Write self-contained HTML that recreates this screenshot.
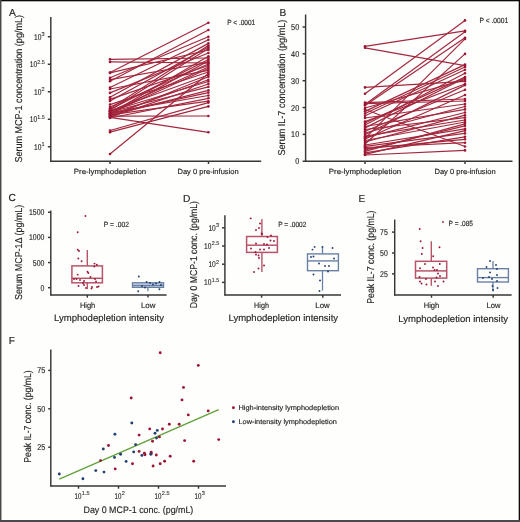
<!DOCTYPE html>
<html><head><meta charset="utf-8"><style>
html,body{margin:0;padding:0;background:#fefefd;}
body{width:520px;height:522px;overflow:hidden;position:relative;}
svg{position:absolute;left:0;top:0;will-change:transform;}
text{font-family:"Liberation Sans", sans-serif;text-rendering:geometricPrecision;stroke:#2a2a2a;stroke-width:0.16px;paint-order:stroke;}
</style></head><body>
<svg width="520" height="522" viewBox="0 0 520 522">
<rect x="0" y="0" width="520" height="522" fill="#fefefd"/>
<text x="9.00" y="15.50" font-size="10.2" text-anchor="start" fill="#262626">A</text>
<text x="22.20" y="162.60" font-size="10.0" text-anchor="start" fill="#262626" textLength="147.60" lengthAdjust="spacingAndGlyphs" transform="rotate(-90 22.20 162.60)">Serum MCP-1 concentration (pg/mL)</text>
<line x1="47.80" y1="36.75" x2="50.60" y2="36.75" stroke="#363636" stroke-width="1.45"/>
<text x="41.60" y="36.05" font-size="5.6" text-anchor="start" fill="#262626" style="stroke-width:0.08px">3</text>
<text x="41.40" y="39.75" font-size="8.4" text-anchor="end" fill="#262626" textLength="7.40" lengthAdjust="spacingAndGlyphs">10</text>
<line x1="47.80" y1="64.25" x2="50.60" y2="64.25" stroke="#363636" stroke-width="1.45"/>
<text x="37.30" y="63.55" font-size="5.6" text-anchor="start" fill="#262626" textLength="7.60" lengthAdjust="spacingAndGlyphs" style="stroke-width:0.08px">2.5</text>
<text x="37.10" y="67.25" font-size="8.4" text-anchor="end" fill="#262626" textLength="7.40" lengthAdjust="spacingAndGlyphs">10</text>
<line x1="47.80" y1="91.75" x2="50.60" y2="91.75" stroke="#363636" stroke-width="1.45"/>
<text x="41.60" y="91.05" font-size="5.6" text-anchor="start" fill="#262626" style="stroke-width:0.08px">2</text>
<text x="41.40" y="94.75" font-size="8.4" text-anchor="end" fill="#262626" textLength="7.40" lengthAdjust="spacingAndGlyphs">10</text>
<line x1="47.80" y1="119.25" x2="50.60" y2="119.25" stroke="#363636" stroke-width="1.45"/>
<text x="37.30" y="118.55" font-size="5.6" text-anchor="start" fill="#262626" textLength="7.60" lengthAdjust="spacingAndGlyphs" style="stroke-width:0.08px">1.5</text>
<text x="37.10" y="122.25" font-size="8.4" text-anchor="end" fill="#262626" textLength="7.40" lengthAdjust="spacingAndGlyphs">10</text>
<line x1="47.80" y1="146.75" x2="50.60" y2="146.75" stroke="#363636" stroke-width="1.45"/>
<text x="41.60" y="146.05" font-size="5.6" text-anchor="start" fill="#262626" style="stroke-width:0.08px">1</text>
<text x="41.40" y="149.75" font-size="8.4" text-anchor="end" fill="#262626" textLength="7.40" lengthAdjust="spacingAndGlyphs">10</text>
<line x1="110.00" y1="59.30" x2="208.40" y2="58.00" stroke="#a3283e" stroke-width="1.2"/>
<line x1="110.00" y1="61.90" x2="208.40" y2="63.00" stroke="#a3283e" stroke-width="1.2"/>
<line x1="110.00" y1="72.50" x2="208.40" y2="22.80" stroke="#a3283e" stroke-width="1.2"/>
<line x1="110.00" y1="81.30" x2="208.40" y2="30.00" stroke="#a3283e" stroke-width="1.2"/>
<line x1="110.00" y1="130.50" x2="208.40" y2="102.60" stroke="#a3283e" stroke-width="1.2"/>
<line x1="110.00" y1="132.20" x2="208.40" y2="106.40" stroke="#a3283e" stroke-width="1.2"/>
<line x1="110.00" y1="154.00" x2="208.40" y2="73.50" stroke="#a3283e" stroke-width="1.2"/>
<line x1="110.00" y1="116.20" x2="208.40" y2="116.00" stroke="#a3283e" stroke-width="1.2"/>
<line x1="110.00" y1="117.40" x2="208.40" y2="132.30" stroke="#a3283e" stroke-width="1.2"/>
<line x1="110.00" y1="72.90" x2="208.40" y2="50.00" stroke="#a3283e" stroke-width="1.2"/>
<line x1="110.00" y1="77.70" x2="208.40" y2="36.70" stroke="#a3283e" stroke-width="1.2"/>
<line x1="110.00" y1="79.70" x2="208.40" y2="62.50" stroke="#a3283e" stroke-width="1.2"/>
<line x1="110.00" y1="87.50" x2="208.40" y2="39.80" stroke="#a3283e" stroke-width="1.2"/>
<line x1="110.00" y1="89.00" x2="208.40" y2="70.30" stroke="#a3283e" stroke-width="1.2"/>
<line x1="110.00" y1="92.90" x2="208.40" y2="53.00" stroke="#a3283e" stroke-width="1.2"/>
<line x1="110.00" y1="97.30" x2="208.40" y2="43.40" stroke="#a3283e" stroke-width="1.2"/>
<line x1="110.00" y1="99.40" x2="208.40" y2="65.50" stroke="#a3283e" stroke-width="1.2"/>
<line x1="110.00" y1="101.00" x2="208.40" y2="47.00" stroke="#a3283e" stroke-width="1.2"/>
<line x1="110.00" y1="104.60" x2="208.40" y2="72.00" stroke="#a3283e" stroke-width="1.2"/>
<line x1="110.00" y1="107.00" x2="208.40" y2="64.00" stroke="#a3283e" stroke-width="1.2"/>
<line x1="110.00" y1="108.50" x2="208.40" y2="45.50" stroke="#a3283e" stroke-width="1.2"/>
<line x1="110.00" y1="109.50" x2="208.40" y2="59.50" stroke="#a3283e" stroke-width="1.2"/>
<line x1="110.00" y1="110.20" x2="208.40" y2="48.50" stroke="#a3283e" stroke-width="1.2"/>
<line x1="110.00" y1="110.80" x2="208.40" y2="75.00" stroke="#a3283e" stroke-width="1.2"/>
<line x1="110.00" y1="111.20" x2="208.40" y2="81.50" stroke="#a3283e" stroke-width="1.2"/>
<line x1="110.00" y1="111.50" x2="208.40" y2="67.00" stroke="#a3283e" stroke-width="1.2"/>
<line x1="110.00" y1="112.00" x2="208.40" y2="86.80" stroke="#a3283e" stroke-width="1.2"/>
<line x1="110.00" y1="112.60" x2="208.40" y2="95.50" stroke="#a3283e" stroke-width="1.2"/>
<line x1="110.00" y1="113.20" x2="208.40" y2="68.50" stroke="#a3283e" stroke-width="1.2"/>
<line x1="110.00" y1="113.50" x2="208.40" y2="56.30" stroke="#a3283e" stroke-width="1.2"/>
<line x1="110.00" y1="113.80" x2="208.40" y2="92.60" stroke="#a3283e" stroke-width="1.2"/>
<line x1="110.00" y1="114.40" x2="208.40" y2="61.00" stroke="#a3283e" stroke-width="1.2"/>
<line x1="110.00" y1="114.90" x2="208.40" y2="101.20" stroke="#a3283e" stroke-width="1.2"/>
<line x1="110.00" y1="115.00" x2="208.40" y2="79.70" stroke="#a3283e" stroke-width="1.2"/>
<line x1="110.00" y1="115.60" x2="208.40" y2="90.30" stroke="#a3283e" stroke-width="1.2"/>
<line x1="110.00" y1="116.80" x2="208.40" y2="76.80" stroke="#a3283e" stroke-width="1.2"/>
<line x1="110.00" y1="117.10" x2="208.40" y2="84.00" stroke="#a3283e" stroke-width="1.2"/>
<line x1="110.00" y1="118.00" x2="208.40" y2="98.30" stroke="#a3283e" stroke-width="1.2"/>
<circle cx="110.00" cy="59.30" r="1.3" fill="#9c1634"/>
<circle cx="208.40" cy="58.00" r="1.3" fill="#9c1634"/>
<circle cx="110.00" cy="61.90" r="1.3" fill="#9c1634"/>
<circle cx="208.40" cy="63.00" r="1.3" fill="#9c1634"/>
<circle cx="110.00" cy="72.50" r="1.3" fill="#9c1634"/>
<circle cx="208.40" cy="22.80" r="1.3" fill="#9c1634"/>
<circle cx="110.00" cy="81.30" r="1.3" fill="#9c1634"/>
<circle cx="208.40" cy="30.00" r="1.3" fill="#9c1634"/>
<circle cx="110.00" cy="130.50" r="1.3" fill="#9c1634"/>
<circle cx="208.40" cy="102.60" r="1.3" fill="#9c1634"/>
<circle cx="110.00" cy="132.20" r="1.3" fill="#9c1634"/>
<circle cx="208.40" cy="106.40" r="1.3" fill="#9c1634"/>
<circle cx="110.00" cy="154.00" r="1.3" fill="#9c1634"/>
<circle cx="208.40" cy="73.50" r="1.3" fill="#9c1634"/>
<circle cx="110.00" cy="116.20" r="1.3" fill="#9c1634"/>
<circle cx="208.40" cy="116.00" r="1.3" fill="#9c1634"/>
<circle cx="110.00" cy="117.40" r="1.3" fill="#9c1634"/>
<circle cx="208.40" cy="132.30" r="1.3" fill="#9c1634"/>
<circle cx="110.00" cy="72.90" r="1.3" fill="#9c1634"/>
<circle cx="208.40" cy="50.00" r="1.3" fill="#9c1634"/>
<circle cx="110.00" cy="77.70" r="1.3" fill="#9c1634"/>
<circle cx="208.40" cy="36.70" r="1.3" fill="#9c1634"/>
<circle cx="110.00" cy="79.70" r="1.3" fill="#9c1634"/>
<circle cx="208.40" cy="62.50" r="1.3" fill="#9c1634"/>
<circle cx="110.00" cy="87.50" r="1.3" fill="#9c1634"/>
<circle cx="208.40" cy="39.80" r="1.3" fill="#9c1634"/>
<circle cx="110.00" cy="89.00" r="1.3" fill="#9c1634"/>
<circle cx="208.40" cy="70.30" r="1.3" fill="#9c1634"/>
<circle cx="110.00" cy="92.90" r="1.3" fill="#9c1634"/>
<circle cx="208.40" cy="53.00" r="1.3" fill="#9c1634"/>
<circle cx="110.00" cy="97.30" r="1.3" fill="#9c1634"/>
<circle cx="208.40" cy="43.40" r="1.3" fill="#9c1634"/>
<circle cx="110.00" cy="99.40" r="1.3" fill="#9c1634"/>
<circle cx="208.40" cy="65.50" r="1.3" fill="#9c1634"/>
<circle cx="110.00" cy="101.00" r="1.3" fill="#9c1634"/>
<circle cx="208.40" cy="47.00" r="1.3" fill="#9c1634"/>
<circle cx="110.00" cy="104.60" r="1.3" fill="#9c1634"/>
<circle cx="208.40" cy="72.00" r="1.3" fill="#9c1634"/>
<circle cx="110.00" cy="107.00" r="1.3" fill="#9c1634"/>
<circle cx="208.40" cy="64.00" r="1.3" fill="#9c1634"/>
<circle cx="110.00" cy="108.50" r="1.3" fill="#9c1634"/>
<circle cx="208.40" cy="45.50" r="1.3" fill="#9c1634"/>
<circle cx="110.00" cy="109.50" r="1.3" fill="#9c1634"/>
<circle cx="208.40" cy="59.50" r="1.3" fill="#9c1634"/>
<circle cx="110.00" cy="110.20" r="1.3" fill="#9c1634"/>
<circle cx="208.40" cy="48.50" r="1.3" fill="#9c1634"/>
<circle cx="110.00" cy="110.80" r="1.3" fill="#9c1634"/>
<circle cx="208.40" cy="75.00" r="1.3" fill="#9c1634"/>
<circle cx="110.00" cy="111.20" r="1.3" fill="#9c1634"/>
<circle cx="208.40" cy="81.50" r="1.3" fill="#9c1634"/>
<circle cx="110.00" cy="111.50" r="1.3" fill="#9c1634"/>
<circle cx="208.40" cy="67.00" r="1.3" fill="#9c1634"/>
<circle cx="110.00" cy="112.00" r="1.3" fill="#9c1634"/>
<circle cx="208.40" cy="86.80" r="1.3" fill="#9c1634"/>
<circle cx="110.00" cy="112.60" r="1.3" fill="#9c1634"/>
<circle cx="208.40" cy="95.50" r="1.3" fill="#9c1634"/>
<circle cx="110.00" cy="113.20" r="1.3" fill="#9c1634"/>
<circle cx="208.40" cy="68.50" r="1.3" fill="#9c1634"/>
<circle cx="110.00" cy="113.50" r="1.3" fill="#9c1634"/>
<circle cx="208.40" cy="56.30" r="1.3" fill="#9c1634"/>
<circle cx="110.00" cy="113.80" r="1.3" fill="#9c1634"/>
<circle cx="208.40" cy="92.60" r="1.3" fill="#9c1634"/>
<circle cx="110.00" cy="114.40" r="1.3" fill="#9c1634"/>
<circle cx="208.40" cy="61.00" r="1.3" fill="#9c1634"/>
<circle cx="110.00" cy="114.90" r="1.3" fill="#9c1634"/>
<circle cx="208.40" cy="101.20" r="1.3" fill="#9c1634"/>
<circle cx="110.00" cy="115.00" r="1.3" fill="#9c1634"/>
<circle cx="208.40" cy="79.70" r="1.3" fill="#9c1634"/>
<circle cx="110.00" cy="115.60" r="1.3" fill="#9c1634"/>
<circle cx="208.40" cy="90.30" r="1.3" fill="#9c1634"/>
<circle cx="110.00" cy="116.80" r="1.3" fill="#9c1634"/>
<circle cx="208.40" cy="76.80" r="1.3" fill="#9c1634"/>
<circle cx="110.00" cy="117.10" r="1.3" fill="#9c1634"/>
<circle cx="208.40" cy="84.00" r="1.3" fill="#9c1634"/>
<circle cx="110.00" cy="118.00" r="1.3" fill="#9c1634"/>
<circle cx="208.40" cy="98.30" r="1.3" fill="#9c1634"/>
<line x1="50.80" y1="17.00" x2="50.80" y2="161.90" stroke="#363636" stroke-width="1.45"/>
<line x1="50.00" y1="161.20" x2="261.20" y2="161.20" stroke="#363636" stroke-width="1.45"/>
<line x1="110.00" y1="161.20" x2="110.00" y2="164.00" stroke="#363636" stroke-width="1.45"/>
<line x1="208.50" y1="161.20" x2="208.50" y2="164.00" stroke="#363636" stroke-width="1.45"/>
<text x="110.00" y="174.20" font-size="7.5" text-anchor="middle" fill="#262626" textLength="72.40" lengthAdjust="spacingAndGlyphs">Pre-lymphodepletion</text>
<text x="208.10" y="174.20" font-size="7.5" text-anchor="middle" fill="#262626" textLength="61.30" lengthAdjust="spacingAndGlyphs">Day 0 pre-infusion</text>
<text x="227.30" y="24.90" font-size="7.5" text-anchor="start" fill="#262626" textLength="27.90" lengthAdjust="spacingAndGlyphs">P &lt; .0001</text>
<text x="279.50" y="15.50" font-size="10.2" text-anchor="start" fill="#262626">B</text>
<text x="284.80" y="155.50" font-size="10.0" text-anchor="start" fill="#262626" textLength="135.80" lengthAdjust="spacingAndGlyphs" transform="rotate(-90 284.80 155.50)">Serum IL-7 concentration (pg/mL)</text>
<line x1="302.60" y1="161.25" x2="305.50" y2="161.25" stroke="#363636" stroke-width="1.45"/>
<text x="299.20" y="164.25" font-size="8.4" text-anchor="end" fill="#262626" textLength="4.05" lengthAdjust="spacingAndGlyphs">0</text>
<line x1="302.60" y1="134.40" x2="305.50" y2="134.40" stroke="#363636" stroke-width="1.45"/>
<text x="299.20" y="137.40" font-size="8.4" text-anchor="end" fill="#262626" textLength="8.10" lengthAdjust="spacingAndGlyphs">10</text>
<line x1="302.60" y1="107.55" x2="305.50" y2="107.55" stroke="#363636" stroke-width="1.45"/>
<text x="299.20" y="110.55" font-size="8.4" text-anchor="end" fill="#262626" textLength="8.10" lengthAdjust="spacingAndGlyphs">20</text>
<line x1="302.60" y1="80.70" x2="305.50" y2="80.70" stroke="#363636" stroke-width="1.45"/>
<text x="299.20" y="83.70" font-size="8.4" text-anchor="end" fill="#262626" textLength="8.10" lengthAdjust="spacingAndGlyphs">30</text>
<line x1="302.60" y1="53.85" x2="305.50" y2="53.85" stroke="#363636" stroke-width="1.45"/>
<text x="299.20" y="56.85" font-size="8.4" text-anchor="end" fill="#262626" textLength="8.10" lengthAdjust="spacingAndGlyphs">40</text>
<line x1="302.60" y1="27.00" x2="305.50" y2="27.00" stroke="#363636" stroke-width="1.45"/>
<text x="299.20" y="30.00" font-size="8.4" text-anchor="end" fill="#262626" textLength="8.10" lengthAdjust="spacingAndGlyphs">50</text>
<line x1="365.00" y1="46.30" x2="465.00" y2="30.80" stroke="#a3283e" stroke-width="1.2"/>
<line x1="365.00" y1="47.80" x2="465.00" y2="65.70" stroke="#a3283e" stroke-width="1.2"/>
<line x1="365.00" y1="93.80" x2="465.00" y2="20.40" stroke="#a3283e" stroke-width="1.2"/>
<line x1="365.00" y1="104.50" x2="465.00" y2="31.80" stroke="#a3283e" stroke-width="1.2"/>
<line x1="365.00" y1="105.50" x2="465.00" y2="37.80" stroke="#a3283e" stroke-width="1.2"/>
<line x1="365.00" y1="138.40" x2="465.00" y2="38.90" stroke="#a3283e" stroke-width="1.2"/>
<line x1="365.00" y1="144.00" x2="465.00" y2="53.90" stroke="#a3283e" stroke-width="1.2"/>
<line x1="365.00" y1="102.60" x2="465.00" y2="99.00" stroke="#a3283e" stroke-width="1.2"/>
<line x1="365.00" y1="103.70" x2="465.00" y2="101.00" stroke="#a3283e" stroke-width="1.2"/>
<line x1="365.00" y1="109.50" x2="465.00" y2="146.50" stroke="#a3283e" stroke-width="1.2"/>
<line x1="365.00" y1="155.00" x2="465.00" y2="150.40" stroke="#a3283e" stroke-width="1.2"/>
<line x1="365.00" y1="87.40" x2="465.00" y2="81.30" stroke="#a3283e" stroke-width="1.2"/>
<line x1="365.00" y1="108.00" x2="465.00" y2="79.70" stroke="#a3283e" stroke-width="1.2"/>
<line x1="365.00" y1="111.40" x2="465.00" y2="64.60" stroke="#a3283e" stroke-width="1.2"/>
<line x1="365.00" y1="113.50" x2="465.00" y2="67.00" stroke="#a3283e" stroke-width="1.2"/>
<line x1="365.00" y1="115.80" x2="465.00" y2="69.70" stroke="#a3283e" stroke-width="1.2"/>
<line x1="365.00" y1="118.00" x2="465.00" y2="104.00" stroke="#a3283e" stroke-width="1.2"/>
<line x1="365.00" y1="121.60" x2="465.00" y2="84.00" stroke="#a3283e" stroke-width="1.2"/>
<line x1="365.00" y1="123.00" x2="465.00" y2="77.10" stroke="#a3283e" stroke-width="1.2"/>
<line x1="365.00" y1="125.00" x2="465.00" y2="73.30" stroke="#a3283e" stroke-width="1.2"/>
<line x1="365.00" y1="126.50" x2="465.00" y2="109.40" stroke="#a3283e" stroke-width="1.2"/>
<line x1="365.00" y1="127.90" x2="465.00" y2="78.00" stroke="#a3283e" stroke-width="1.2"/>
<line x1="365.00" y1="129.50" x2="465.00" y2="117.60" stroke="#a3283e" stroke-width="1.2"/>
<line x1="365.00" y1="131.30" x2="465.00" y2="89.80" stroke="#a3283e" stroke-width="1.2"/>
<line x1="365.00" y1="133.00" x2="465.00" y2="106.50" stroke="#a3283e" stroke-width="1.2"/>
<line x1="365.00" y1="134.80" x2="465.00" y2="85.10" stroke="#a3283e" stroke-width="1.2"/>
<line x1="365.00" y1="136.20" x2="465.00" y2="120.00" stroke="#a3283e" stroke-width="1.2"/>
<line x1="365.00" y1="137.70" x2="465.00" y2="112.50" stroke="#a3283e" stroke-width="1.2"/>
<line x1="365.00" y1="139.00" x2="465.00" y2="95.00" stroke="#a3283e" stroke-width="1.2"/>
<line x1="365.00" y1="140.50" x2="465.00" y2="122.00" stroke="#a3283e" stroke-width="1.2"/>
<line x1="365.00" y1="142.00" x2="465.00" y2="115.20" stroke="#a3283e" stroke-width="1.2"/>
<line x1="365.00" y1="145.00" x2="465.00" y2="128.90" stroke="#a3283e" stroke-width="1.2"/>
<line x1="365.00" y1="146.30" x2="465.00" y2="133.40" stroke="#a3283e" stroke-width="1.2"/>
<line x1="365.00" y1="147.50" x2="465.00" y2="142.70" stroke="#a3283e" stroke-width="1.2"/>
<line x1="365.00" y1="148.60" x2="465.00" y2="139.30" stroke="#a3283e" stroke-width="1.2"/>
<line x1="365.00" y1="150.00" x2="465.00" y2="125.80" stroke="#a3283e" stroke-width="1.2"/>
<line x1="365.00" y1="151.40" x2="465.00" y2="123.80" stroke="#a3283e" stroke-width="1.2"/>
<line x1="365.00" y1="152.80" x2="465.00" y2="136.80" stroke="#a3283e" stroke-width="1.2"/>
<line x1="365.00" y1="154.30" x2="465.00" y2="130.60" stroke="#a3283e" stroke-width="1.2"/>
<circle cx="365.00" cy="46.30" r="1.3" fill="#9c1634"/>
<circle cx="465.00" cy="30.80" r="1.3" fill="#9c1634"/>
<circle cx="365.00" cy="47.80" r="1.3" fill="#9c1634"/>
<circle cx="465.00" cy="65.70" r="1.3" fill="#9c1634"/>
<circle cx="365.00" cy="93.80" r="1.3" fill="#9c1634"/>
<circle cx="465.00" cy="20.40" r="1.3" fill="#9c1634"/>
<circle cx="365.00" cy="104.50" r="1.3" fill="#9c1634"/>
<circle cx="465.00" cy="31.80" r="1.3" fill="#9c1634"/>
<circle cx="365.00" cy="105.50" r="1.3" fill="#9c1634"/>
<circle cx="465.00" cy="37.80" r="1.3" fill="#9c1634"/>
<circle cx="365.00" cy="138.40" r="1.3" fill="#9c1634"/>
<circle cx="465.00" cy="38.90" r="1.3" fill="#9c1634"/>
<circle cx="365.00" cy="144.00" r="1.3" fill="#9c1634"/>
<circle cx="465.00" cy="53.90" r="1.3" fill="#9c1634"/>
<circle cx="365.00" cy="102.60" r="1.3" fill="#9c1634"/>
<circle cx="465.00" cy="99.00" r="1.3" fill="#9c1634"/>
<circle cx="365.00" cy="103.70" r="1.3" fill="#9c1634"/>
<circle cx="465.00" cy="101.00" r="1.3" fill="#9c1634"/>
<circle cx="365.00" cy="109.50" r="1.3" fill="#9c1634"/>
<circle cx="465.00" cy="146.50" r="1.3" fill="#9c1634"/>
<circle cx="365.00" cy="155.00" r="1.3" fill="#9c1634"/>
<circle cx="465.00" cy="150.40" r="1.3" fill="#9c1634"/>
<circle cx="365.00" cy="87.40" r="1.3" fill="#9c1634"/>
<circle cx="465.00" cy="81.30" r="1.3" fill="#9c1634"/>
<circle cx="365.00" cy="108.00" r="1.3" fill="#9c1634"/>
<circle cx="465.00" cy="79.70" r="1.3" fill="#9c1634"/>
<circle cx="365.00" cy="111.40" r="1.3" fill="#9c1634"/>
<circle cx="465.00" cy="64.60" r="1.3" fill="#9c1634"/>
<circle cx="365.00" cy="113.50" r="1.3" fill="#9c1634"/>
<circle cx="465.00" cy="67.00" r="1.3" fill="#9c1634"/>
<circle cx="365.00" cy="115.80" r="1.3" fill="#9c1634"/>
<circle cx="465.00" cy="69.70" r="1.3" fill="#9c1634"/>
<circle cx="365.00" cy="118.00" r="1.3" fill="#9c1634"/>
<circle cx="465.00" cy="104.00" r="1.3" fill="#9c1634"/>
<circle cx="365.00" cy="121.60" r="1.3" fill="#9c1634"/>
<circle cx="465.00" cy="84.00" r="1.3" fill="#9c1634"/>
<circle cx="365.00" cy="123.00" r="1.3" fill="#9c1634"/>
<circle cx="465.00" cy="77.10" r="1.3" fill="#9c1634"/>
<circle cx="365.00" cy="125.00" r="1.3" fill="#9c1634"/>
<circle cx="465.00" cy="73.30" r="1.3" fill="#9c1634"/>
<circle cx="365.00" cy="126.50" r="1.3" fill="#9c1634"/>
<circle cx="465.00" cy="109.40" r="1.3" fill="#9c1634"/>
<circle cx="365.00" cy="127.90" r="1.3" fill="#9c1634"/>
<circle cx="465.00" cy="78.00" r="1.3" fill="#9c1634"/>
<circle cx="365.00" cy="129.50" r="1.3" fill="#9c1634"/>
<circle cx="465.00" cy="117.60" r="1.3" fill="#9c1634"/>
<circle cx="365.00" cy="131.30" r="1.3" fill="#9c1634"/>
<circle cx="465.00" cy="89.80" r="1.3" fill="#9c1634"/>
<circle cx="365.00" cy="133.00" r="1.3" fill="#9c1634"/>
<circle cx="465.00" cy="106.50" r="1.3" fill="#9c1634"/>
<circle cx="365.00" cy="134.80" r="1.3" fill="#9c1634"/>
<circle cx="465.00" cy="85.10" r="1.3" fill="#9c1634"/>
<circle cx="365.00" cy="136.20" r="1.3" fill="#9c1634"/>
<circle cx="465.00" cy="120.00" r="1.3" fill="#9c1634"/>
<circle cx="365.00" cy="137.70" r="1.3" fill="#9c1634"/>
<circle cx="465.00" cy="112.50" r="1.3" fill="#9c1634"/>
<circle cx="365.00" cy="139.00" r="1.3" fill="#9c1634"/>
<circle cx="465.00" cy="95.00" r="1.3" fill="#9c1634"/>
<circle cx="365.00" cy="140.50" r="1.3" fill="#9c1634"/>
<circle cx="465.00" cy="122.00" r="1.3" fill="#9c1634"/>
<circle cx="365.00" cy="142.00" r="1.3" fill="#9c1634"/>
<circle cx="465.00" cy="115.20" r="1.3" fill="#9c1634"/>
<circle cx="365.00" cy="145.00" r="1.3" fill="#9c1634"/>
<circle cx="465.00" cy="128.90" r="1.3" fill="#9c1634"/>
<circle cx="365.00" cy="146.30" r="1.3" fill="#9c1634"/>
<circle cx="465.00" cy="133.40" r="1.3" fill="#9c1634"/>
<circle cx="365.00" cy="147.50" r="1.3" fill="#9c1634"/>
<circle cx="465.00" cy="142.70" r="1.3" fill="#9c1634"/>
<circle cx="365.00" cy="148.60" r="1.3" fill="#9c1634"/>
<circle cx="465.00" cy="139.30" r="1.3" fill="#9c1634"/>
<circle cx="365.00" cy="150.00" r="1.3" fill="#9c1634"/>
<circle cx="465.00" cy="125.80" r="1.3" fill="#9c1634"/>
<circle cx="365.00" cy="151.40" r="1.3" fill="#9c1634"/>
<circle cx="465.00" cy="123.80" r="1.3" fill="#9c1634"/>
<circle cx="365.00" cy="152.80" r="1.3" fill="#9c1634"/>
<circle cx="465.00" cy="136.80" r="1.3" fill="#9c1634"/>
<circle cx="365.00" cy="154.30" r="1.3" fill="#9c1634"/>
<circle cx="465.00" cy="130.60" r="1.3" fill="#9c1634"/>
<line x1="305.60" y1="14.50" x2="305.60" y2="161.90" stroke="#363636" stroke-width="1.45"/>
<line x1="305.00" y1="161.20" x2="512.50" y2="161.20" stroke="#363636" stroke-width="1.45"/>
<line x1="365.00" y1="161.20" x2="365.00" y2="164.00" stroke="#363636" stroke-width="1.45"/>
<line x1="465.00" y1="161.20" x2="465.00" y2="164.00" stroke="#363636" stroke-width="1.45"/>
<text x="365.00" y="174.20" font-size="7.5" text-anchor="middle" fill="#262626" textLength="72.40" lengthAdjust="spacingAndGlyphs">Pre-lymphodepletion</text>
<text x="465.10" y="174.20" font-size="7.5" text-anchor="middle" fill="#262626" textLength="61.30" lengthAdjust="spacingAndGlyphs">Day 0 pre-infusion</text>
<text x="479.50" y="23.20" font-size="7.5" text-anchor="start" fill="#262626" textLength="28.70" lengthAdjust="spacingAndGlyphs">P &lt; .0001</text>
<text x="8.60" y="200.80" font-size="10.2" text-anchor="start" fill="#262626">C</text>
<text x="21.60" y="300.00" font-size="10.0" text-anchor="start" fill="#262626" textLength="95.30" lengthAdjust="spacingAndGlyphs" transform="rotate(-90 21.60 300.00)">Serum MCP-1&#916; (pg/mL)</text>
<line x1="48.00" y1="287.70" x2="50.70" y2="287.70" stroke="#363636" stroke-width="1.45"/>
<text x="44.40" y="290.70" font-size="8.4" text-anchor="end" fill="#262626" textLength="3.85" lengthAdjust="spacingAndGlyphs">0</text>
<line x1="48.00" y1="262.55" x2="50.70" y2="262.55" stroke="#363636" stroke-width="1.45"/>
<text x="44.40" y="265.55" font-size="8.4" text-anchor="end" fill="#262626" textLength="11.55" lengthAdjust="spacingAndGlyphs">500</text>
<line x1="48.00" y1="237.40" x2="50.70" y2="237.40" stroke="#363636" stroke-width="1.45"/>
<text x="44.40" y="240.40" font-size="8.4" text-anchor="end" fill="#262626" textLength="15.40" lengthAdjust="spacingAndGlyphs">1000</text>
<line x1="48.00" y1="212.25" x2="50.70" y2="212.25" stroke="#363636" stroke-width="1.45"/>
<text x="44.40" y="215.25" font-size="8.4" text-anchor="end" fill="#262626" textLength="15.40" lengthAdjust="spacingAndGlyphs">1500</text>
<rect x="71.90" y="265.90" width="30.50" height="16.90" stroke="#b85469" fill="none" stroke-width="1.5"/>
<line x1="71.60" y1="278.30" x2="102.30" y2="278.30" stroke="#b85469" stroke-width="1.5"/>
<line x1="87.30" y1="250.00" x2="87.30" y2="265.60" stroke="#b85469" stroke-width="1.4"/>
<line x1="87.30" y1="282.70" x2="87.30" y2="288.90" stroke="#b85469" stroke-width="1.4"/>
<circle cx="85.40" cy="216.00" r="0.95" fill="#9c1634"/>
<circle cx="77.70" cy="232.30" r="0.95" fill="#9c1634"/>
<circle cx="77.80" cy="249.80" r="0.95" fill="#9c1634"/>
<circle cx="79.00" cy="251.00" r="0.95" fill="#9c1634"/>
<circle cx="78.30" cy="258.50" r="0.95" fill="#9c1634"/>
<circle cx="81.60" cy="261.30" r="0.95" fill="#9c1634"/>
<circle cx="94.50" cy="263.60" r="0.95" fill="#9c1634"/>
<circle cx="96.80" cy="264.80" r="0.95" fill="#9c1634"/>
<circle cx="94.30" cy="266.60" r="0.95" fill="#9c1634"/>
<circle cx="87.50" cy="271.80" r="0.95" fill="#9c1634"/>
<circle cx="88.30" cy="273.00" r="0.95" fill="#9c1634"/>
<circle cx="77.70" cy="274.60" r="0.95" fill="#9c1634"/>
<circle cx="90.50" cy="277.00" r="0.95" fill="#9c1634"/>
<circle cx="76.50" cy="279.00" r="0.95" fill="#9c1634"/>
<circle cx="80.00" cy="280.00" r="0.95" fill="#9c1634"/>
<circle cx="84.00" cy="281.00" r="0.95" fill="#9c1634"/>
<circle cx="95.00" cy="279.00" r="0.95" fill="#9c1634"/>
<circle cx="96.00" cy="281.50" r="0.95" fill="#9c1634"/>
<circle cx="83.00" cy="283.00" r="0.95" fill="#9c1634"/>
<circle cx="84.00" cy="285.00" r="0.95" fill="#9c1634"/>
<circle cx="78.50" cy="286.00" r="0.95" fill="#9c1634"/>
<circle cx="86.00" cy="288.00" r="0.95" fill="#9c1634"/>
<circle cx="92.00" cy="287.00" r="0.95" fill="#9c1634"/>
<circle cx="91.50" cy="288.50" r="0.95" fill="#9c1634"/>
<circle cx="97.00" cy="287.00" r="0.95" fill="#9c1634"/>
<circle cx="98.50" cy="286.50" r="0.95" fill="#9c1634"/>
<circle cx="74.00" cy="279.00" r="0.95" fill="#9c1634"/>
<rect x="132.50" y="282.80" width="31.00" height="4.50" stroke="#6a80a5" fill="#d3dbe8" stroke-width="1.4"/>
<line x1="132.50" y1="285.40" x2="163.50" y2="285.40" stroke="#6a80a5" stroke-width="1.3"/>
<line x1="147.90" y1="287.30" x2="147.90" y2="291.20" stroke="#6a80a5" stroke-width="1.3"/>
<circle cx="138.80" cy="276.50" r="0.95" fill="#223f70"/>
<circle cx="138.20" cy="291.30" r="0.95" fill="#223f70"/>
<circle cx="159.40" cy="289.20" r="0.95" fill="#223f70"/>
<circle cx="146.60" cy="282.00" r="0.95" fill="#223f70"/>
<circle cx="159.50" cy="282.00" r="0.95" fill="#223f70"/>
<circle cx="150.00" cy="283.00" r="0.95" fill="#223f70"/>
<circle cx="153.00" cy="284.50" r="0.95" fill="#223f70"/>
<circle cx="156.00" cy="283.50" r="0.95" fill="#223f70"/>
<circle cx="142.00" cy="286.00" r="0.95" fill="#223f70"/>
<circle cx="145.00" cy="287.50" r="0.95" fill="#223f70"/>
<circle cx="161.00" cy="285.00" r="0.95" fill="#223f70"/>
<line x1="50.80" y1="210.40" x2="50.80" y2="295.60" stroke="#363636" stroke-width="1.45"/>
<line x1="50.20" y1="295.00" x2="166.60" y2="295.00" stroke="#363636" stroke-width="1.45"/>
<line x1="87.30" y1="295.00" x2="87.30" y2="297.60" stroke="#363636" stroke-width="1.45"/>
<line x1="148.00" y1="295.00" x2="148.00" y2="297.60" stroke="#363636" stroke-width="1.45"/>
<text x="87.60" y="307.80" font-size="7.8" text-anchor="middle" fill="#262626" textLength="15.40" lengthAdjust="spacingAndGlyphs">High</text>
<text x="148.20" y="307.80" font-size="7.8" text-anchor="middle" fill="#262626" textLength="14.40" lengthAdjust="spacingAndGlyphs">Low</text>
<text x="109.00" y="321.30" font-size="9.5" text-anchor="middle" fill="#262626" textLength="110.00" lengthAdjust="spacingAndGlyphs">Lymphodepletion intensity</text>
<text x="103.80" y="226.90" font-size="7.5" text-anchor="start" fill="#262626" textLength="25.20" lengthAdjust="spacingAndGlyphs">P = .002</text>
<text x="183.00" y="201.50" font-size="10.2" text-anchor="start" fill="#262626">D</text>
<text x="197.00" y="308.20" font-size="10.0" text-anchor="start" fill="#262626" textLength="107.20" lengthAdjust="spacingAndGlyphs" transform="rotate(-90 197.00 308.20)">Day 0 MCP-1 conc. (pg/mL)</text>
<line x1="222.00" y1="227.80" x2="224.80" y2="227.80" stroke="#363636" stroke-width="1.45"/>
<text x="216.00" y="227.10" font-size="5.6" text-anchor="start" fill="#262626" style="stroke-width:0.08px">3</text>
<text x="215.80" y="230.80" font-size="8.4" text-anchor="end" fill="#262626" textLength="7.40" lengthAdjust="spacingAndGlyphs">10</text>
<line x1="222.00" y1="246.00" x2="224.80" y2="246.00" stroke="#363636" stroke-width="1.45"/>
<text x="211.70" y="245.30" font-size="5.6" text-anchor="start" fill="#262626" textLength="7.60" lengthAdjust="spacingAndGlyphs" style="stroke-width:0.08px">2.5</text>
<text x="211.50" y="249.00" font-size="8.4" text-anchor="end" fill="#262626" textLength="7.40" lengthAdjust="spacingAndGlyphs">10</text>
<line x1="222.00" y1="264.20" x2="224.80" y2="264.20" stroke="#363636" stroke-width="1.45"/>
<text x="216.00" y="263.50" font-size="5.6" text-anchor="start" fill="#262626" style="stroke-width:0.08px">2</text>
<text x="215.80" y="267.20" font-size="8.4" text-anchor="end" fill="#262626" textLength="7.40" lengthAdjust="spacingAndGlyphs">10</text>
<line x1="222.00" y1="282.40" x2="224.80" y2="282.40" stroke="#363636" stroke-width="1.45"/>
<text x="211.70" y="281.70" font-size="5.6" text-anchor="start" fill="#262626" textLength="7.60" lengthAdjust="spacingAndGlyphs" style="stroke-width:0.08px">1.5</text>
<text x="211.50" y="285.40" font-size="8.4" text-anchor="end" fill="#262626" textLength="7.40" lengthAdjust="spacingAndGlyphs">10</text>
<rect x="246.60" y="236.50" width="30.80" height="15.90" stroke="#b85469" fill="none" stroke-width="1.5"/>
<line x1="246.30" y1="245.20" x2="277.30" y2="245.20" stroke="#b85469" stroke-width="1.5"/>
<line x1="261.90" y1="219.00" x2="261.90" y2="236.20" stroke="#b85469" stroke-width="1.4"/>
<line x1="261.90" y1="252.30" x2="261.90" y2="272.00" stroke="#b85469" stroke-width="1.4"/>
<circle cx="250.70" cy="218.40" r="0.95" fill="#9c1634"/>
<circle cx="260.00" cy="223.50" r="0.95" fill="#9c1634"/>
<circle cx="259.00" cy="228.00" r="0.95" fill="#9c1634"/>
<circle cx="256.00" cy="230.00" r="0.95" fill="#9c1634"/>
<circle cx="261.50" cy="233.50" r="0.95" fill="#9c1634"/>
<circle cx="262.00" cy="234.00" r="0.95" fill="#9c1634"/>
<circle cx="267.50" cy="237.00" r="0.95" fill="#9c1634"/>
<circle cx="271.00" cy="235.50" r="0.95" fill="#9c1634"/>
<circle cx="270.50" cy="240.50" r="0.95" fill="#9c1634"/>
<circle cx="274.00" cy="241.00" r="0.95" fill="#9c1634"/>
<circle cx="256.00" cy="243.50" r="0.95" fill="#9c1634"/>
<circle cx="264.00" cy="244.00" r="0.95" fill="#9c1634"/>
<circle cx="267.00" cy="244.50" r="0.95" fill="#9c1634"/>
<circle cx="251.00" cy="248.50" r="0.95" fill="#9c1634"/>
<circle cx="260.00" cy="249.50" r="0.95" fill="#9c1634"/>
<circle cx="264.00" cy="249.50" r="0.95" fill="#9c1634"/>
<circle cx="269.00" cy="248.00" r="0.95" fill="#9c1634"/>
<circle cx="255.50" cy="252.00" r="0.95" fill="#9c1634"/>
<circle cx="256.00" cy="254.50" r="0.95" fill="#9c1634"/>
<circle cx="258.50" cy="255.50" r="0.95" fill="#9c1634"/>
<circle cx="259.00" cy="258.00" r="0.95" fill="#9c1634"/>
<circle cx="264.00" cy="265.50" r="0.95" fill="#9c1634"/>
<circle cx="258.50" cy="268.50" r="0.95" fill="#9c1634"/>
<circle cx="254.00" cy="272.00" r="0.95" fill="#9c1634"/>
<rect x="307.50" y="253.90" width="30.90" height="16.80" stroke="#6a80a5" fill="none" stroke-width="1.4"/>
<line x1="307.30" y1="260.90" x2="338.30" y2="260.90" stroke="#6a80a5" stroke-width="1.4"/>
<line x1="322.50" y1="247.30" x2="322.50" y2="253.60" stroke="#6a80a5" stroke-width="1.3"/>
<line x1="322.50" y1="270.60" x2="322.50" y2="290.60" stroke="#6a80a5" stroke-width="1.3"/>
<circle cx="314.60" cy="246.90" r="0.95" fill="#223f70"/>
<circle cx="312.50" cy="249.60" r="0.95" fill="#223f70"/>
<circle cx="322.50" cy="247.00" r="0.95" fill="#223f70"/>
<circle cx="332.50" cy="248.00" r="0.95" fill="#223f70"/>
<circle cx="311.00" cy="257.00" r="0.95" fill="#223f70"/>
<circle cx="313.50" cy="256.50" r="0.95" fill="#223f70"/>
<circle cx="334.00" cy="258.50" r="0.95" fill="#223f70"/>
<circle cx="319.00" cy="263.50" r="0.95" fill="#223f70"/>
<circle cx="325.00" cy="266.00" r="0.95" fill="#223f70"/>
<circle cx="329.00" cy="266.00" r="0.95" fill="#223f70"/>
<circle cx="328.00" cy="271.50" r="0.95" fill="#223f70"/>
<circle cx="313.50" cy="274.50" r="0.95" fill="#223f70"/>
<circle cx="320.00" cy="280.50" r="0.95" fill="#223f70"/>
<circle cx="319.50" cy="291.00" r="0.95" fill="#223f70"/>
<line x1="224.90" y1="215.20" x2="224.90" y2="295.60" stroke="#363636" stroke-width="1.45"/>
<line x1="224.30" y1="295.00" x2="341.00" y2="295.00" stroke="#363636" stroke-width="1.45"/>
<line x1="261.60" y1="295.00" x2="261.60" y2="297.70" stroke="#363636" stroke-width="1.45"/>
<line x1="322.80" y1="295.00" x2="322.80" y2="297.70" stroke="#363636" stroke-width="1.45"/>
<text x="261.50" y="307.70" font-size="7.8" text-anchor="middle" fill="#262626" textLength="14.80" lengthAdjust="spacingAndGlyphs">High</text>
<text x="322.50" y="307.70" font-size="7.8" text-anchor="middle" fill="#262626" textLength="14.30" lengthAdjust="spacingAndGlyphs">Low</text>
<text x="283.30" y="321.00" font-size="9.5" text-anchor="middle" fill="#262626" textLength="109.70" lengthAdjust="spacingAndGlyphs">Lymphodepletion intensity</text>
<text x="278.20" y="227.10" font-size="7.5" text-anchor="start" fill="#262626" textLength="28.20" lengthAdjust="spacingAndGlyphs">P = .0002</text>
<text x="358.50" y="201.80" font-size="10.2" text-anchor="start" fill="#262626">E</text>
<text x="374.00" y="303.80" font-size="10.0" text-anchor="start" fill="#262626" textLength="93.30" lengthAdjust="spacingAndGlyphs" transform="rotate(-90 374.00 303.80)">Peak IL-7 conc. (pg/mL)</text>
<line x1="392.00" y1="273.90" x2="394.80" y2="273.90" stroke="#363636" stroke-width="1.45"/>
<text x="387.80" y="276.90" font-size="8.4" text-anchor="end" fill="#262626" textLength="7.70" lengthAdjust="spacingAndGlyphs">25</text>
<line x1="392.00" y1="253.00" x2="394.80" y2="253.00" stroke="#363636" stroke-width="1.45"/>
<text x="387.80" y="256.00" font-size="8.4" text-anchor="end" fill="#262626" textLength="7.70" lengthAdjust="spacingAndGlyphs">50</text>
<line x1="392.00" y1="232.10" x2="394.80" y2="232.10" stroke="#363636" stroke-width="1.45"/>
<text x="387.80" y="235.10" font-size="8.4" text-anchor="end" fill="#262626" textLength="7.70" lengthAdjust="spacingAndGlyphs">75</text>
<rect x="415.50" y="261.30" width="31.20" height="16.80" stroke="#b85469" fill="none" stroke-width="1.5"/>
<line x1="415.50" y1="270.90" x2="446.70" y2="270.90" stroke="#b85469" stroke-width="1.5"/>
<line x1="431.30" y1="241.30" x2="431.30" y2="261.30" stroke="#b85469" stroke-width="1.4"/>
<line x1="431.30" y1="278.10" x2="431.30" y2="285.70" stroke="#b85469" stroke-width="1.4"/>
<circle cx="443.00" cy="221.90" r="0.95" fill="#9c1634"/>
<circle cx="419.70" cy="229.00" r="0.95" fill="#9c1634"/>
<circle cx="420.60" cy="241.20" r="0.95" fill="#9c1634"/>
<circle cx="422.60" cy="248.00" r="0.95" fill="#9c1634"/>
<circle cx="439.50" cy="247.20" r="0.95" fill="#9c1634"/>
<circle cx="421.80" cy="254.00" r="0.95" fill="#9c1634"/>
<circle cx="433.20" cy="256.30" r="0.95" fill="#9c1634"/>
<circle cx="425.00" cy="264.00" r="0.95" fill="#9c1634"/>
<circle cx="439.80" cy="264.00" r="0.95" fill="#9c1634"/>
<circle cx="420.00" cy="268.30" r="0.95" fill="#9c1634"/>
<circle cx="433.00" cy="267.50" r="0.95" fill="#9c1634"/>
<circle cx="434.50" cy="270.00" r="0.95" fill="#9c1634"/>
<circle cx="437.00" cy="270.00" r="0.95" fill="#9c1634"/>
<circle cx="438.00" cy="273.50" r="0.95" fill="#9c1634"/>
<circle cx="440.00" cy="276.00" r="0.95" fill="#9c1634"/>
<circle cx="419.60" cy="277.00" r="0.95" fill="#9c1634"/>
<circle cx="426.00" cy="279.00" r="0.95" fill="#9c1634"/>
<circle cx="436.50" cy="277.50" r="0.95" fill="#9c1634"/>
<circle cx="420.00" cy="281.50" r="0.95" fill="#9c1634"/>
<circle cx="421.50" cy="283.50" r="0.95" fill="#9c1634"/>
<circle cx="426.50" cy="284.50" r="0.95" fill="#9c1634"/>
<circle cx="435.00" cy="281.50" r="0.95" fill="#9c1634"/>
<circle cx="443.50" cy="281.50" r="0.95" fill="#9c1634"/>
<circle cx="438.00" cy="286.00" r="0.95" fill="#9c1634"/>
<rect x="477.50" y="268.70" width="30.90" height="13.30" stroke="#6a80a5" fill="none" stroke-width="1.4"/>
<line x1="477.50" y1="277.60" x2="508.40" y2="277.60" stroke="#6a80a5" stroke-width="1.4"/>
<line x1="493.00" y1="260.90" x2="493.00" y2="268.70" stroke="#6a80a5" stroke-width="1.3"/>
<line x1="493.00" y1="282.00" x2="493.00" y2="291.40" stroke="#6a80a5" stroke-width="1.3"/>
<circle cx="490.00" cy="261.00" r="0.95" fill="#223f70"/>
<circle cx="496.00" cy="265.00" r="0.95" fill="#223f70"/>
<circle cx="486.50" cy="267.00" r="0.95" fill="#223f70"/>
<circle cx="497.00" cy="269.00" r="0.95" fill="#223f70"/>
<circle cx="490.00" cy="272.40" r="0.95" fill="#223f70"/>
<circle cx="497.00" cy="275.00" r="0.95" fill="#223f70"/>
<circle cx="489.00" cy="277.00" r="0.95" fill="#223f70"/>
<circle cx="483.00" cy="278.00" r="0.95" fill="#223f70"/>
<circle cx="492.00" cy="279.00" r="0.95" fill="#223f70"/>
<circle cx="497.00" cy="281.00" r="0.95" fill="#223f70"/>
<circle cx="492.50" cy="286.00" r="0.95" fill="#223f70"/>
<circle cx="497.50" cy="288.00" r="0.95" fill="#223f70"/>
<circle cx="493.00" cy="290.00" r="0.95" fill="#223f70"/>
<line x1="394.70" y1="219.50" x2="394.70" y2="295.60" stroke="#363636" stroke-width="1.45"/>
<line x1="394.20" y1="295.00" x2="511.60" y2="295.00" stroke="#363636" stroke-width="1.45"/>
<line x1="431.50" y1="295.00" x2="431.50" y2="297.70" stroke="#363636" stroke-width="1.45"/>
<line x1="493.20" y1="295.00" x2="493.20" y2="297.70" stroke="#363636" stroke-width="1.45"/>
<text x="431.50" y="307.80" font-size="7.8" text-anchor="middle" fill="#262626" textLength="15.60" lengthAdjust="spacingAndGlyphs">High</text>
<text x="493.50" y="307.80" font-size="7.8" text-anchor="middle" fill="#262626" textLength="14.00" lengthAdjust="spacingAndGlyphs">Low</text>
<text x="453.20" y="321.50" font-size="9.5" text-anchor="middle" fill="#262626" textLength="109.70" lengthAdjust="spacingAndGlyphs">Lymphodepletion intensity</text>
<text x="448.60" y="226.10" font-size="7.5" text-anchor="start" fill="#262626" textLength="24.40" lengthAdjust="spacingAndGlyphs">P = .085</text>
<text x="8.70" y="344.40" font-size="10.2" text-anchor="start" fill="#262626">F</text>
<text x="30.80" y="462.70" font-size="10.0" text-anchor="start" fill="#262626" textLength="92.30" lengthAdjust="spacingAndGlyphs" transform="rotate(-90 30.80 462.70)">Peak IL-7 conc. (pg/mL)</text>
<line x1="48.20" y1="447.20" x2="51.00" y2="447.20" stroke="#363636" stroke-width="1.45"/>
<text x="45.20" y="450.20" font-size="8.4" text-anchor="end" fill="#262626" textLength="8.00" lengthAdjust="spacingAndGlyphs">25</text>
<line x1="48.20" y1="408.80" x2="51.00" y2="408.80" stroke="#363636" stroke-width="1.45"/>
<text x="45.20" y="411.80" font-size="8.4" text-anchor="end" fill="#262626" textLength="8.00" lengthAdjust="spacingAndGlyphs">50</text>
<line x1="48.20" y1="370.40" x2="51.00" y2="370.40" stroke="#363636" stroke-width="1.45"/>
<text x="45.20" y="373.40" font-size="8.4" text-anchor="end" fill="#262626" textLength="8.00" lengthAdjust="spacingAndGlyphs">75</text>
<line x1="78.50" y1="486.00" x2="78.50" y2="488.70" stroke="#363636" stroke-width="1.45"/>
<text x="74.60" y="498.90" font-size="8.4" text-anchor="start" fill="#262626" textLength="6.90" lengthAdjust="spacingAndGlyphs">10</text>
<text x="81.80" y="495.40" font-size="5.6" text-anchor="start" fill="#262626" textLength="7.80" lengthAdjust="spacingAndGlyphs" style="stroke-width:0.08px">1.5</text>
<line x1="118.50" y1="486.00" x2="118.50" y2="488.70" stroke="#363636" stroke-width="1.45"/>
<text x="114.60" y="498.90" font-size="8.4" text-anchor="start" fill="#262626" textLength="6.90" lengthAdjust="spacingAndGlyphs">10</text>
<text x="121.80" y="495.40" font-size="5.6" text-anchor="start" fill="#262626" style="stroke-width:0.08px">2</text>
<line x1="158.50" y1="486.00" x2="158.50" y2="488.70" stroke="#363636" stroke-width="1.45"/>
<text x="154.60" y="498.90" font-size="8.4" text-anchor="start" fill="#262626" textLength="6.90" lengthAdjust="spacingAndGlyphs">10</text>
<text x="161.80" y="495.40" font-size="5.6" text-anchor="start" fill="#262626" textLength="7.80" lengthAdjust="spacingAndGlyphs" style="stroke-width:0.08px">2.5</text>
<line x1="198.50" y1="486.00" x2="198.50" y2="488.70" stroke="#363636" stroke-width="1.45"/>
<text x="194.60" y="498.90" font-size="8.4" text-anchor="start" fill="#262626" textLength="6.90" lengthAdjust="spacingAndGlyphs">10</text>
<text x="201.80" y="495.40" font-size="5.6" text-anchor="start" fill="#262626" style="stroke-width:0.08px">3</text>
<line x1="59.30" y1="479.20" x2="218.70" y2="409.60" stroke="#62a03a" stroke-width="1.4"/>
<circle cx="108.50" cy="445.50" r="1.45" fill="#9c1634"/>
<circle cx="100.50" cy="460.60" r="1.45" fill="#9c1634"/>
<circle cx="115.20" cy="468.90" r="1.45" fill="#9c1634"/>
<circle cx="132.50" cy="463.70" r="1.45" fill="#9c1634"/>
<circle cx="139.10" cy="435.10" r="1.45" fill="#9c1634"/>
<circle cx="139.10" cy="451.40" r="1.45" fill="#9c1634"/>
<circle cx="160.20" cy="352.70" r="1.45" fill="#9c1634"/>
<circle cx="198.30" cy="365.40" r="1.45" fill="#9c1634"/>
<circle cx="183.50" cy="387.40" r="1.45" fill="#9c1634"/>
<circle cx="182.00" cy="399.90" r="1.45" fill="#9c1634"/>
<circle cx="131.20" cy="398.00" r="1.45" fill="#9c1634"/>
<circle cx="188.30" cy="414.90" r="1.45" fill="#9c1634"/>
<circle cx="208.20" cy="410.90" r="1.45" fill="#9c1634"/>
<circle cx="169.30" cy="424.20" r="1.45" fill="#9c1634"/>
<circle cx="179.20" cy="424.20" r="1.45" fill="#9c1634"/>
<circle cx="149.70" cy="428.90" r="1.45" fill="#9c1634"/>
<circle cx="162.50" cy="429.00" r="1.45" fill="#9c1634"/>
<circle cx="144.40" cy="453.30" r="1.45" fill="#9c1634"/>
<circle cx="145.00" cy="454.80" r="1.45" fill="#9c1634"/>
<circle cx="151.20" cy="452.30" r="1.45" fill="#9c1634"/>
<circle cx="151.20" cy="453.80" r="1.45" fill="#9c1634"/>
<circle cx="152.50" cy="441.30" r="1.45" fill="#9c1634"/>
<circle cx="156.30" cy="455.00" r="1.45" fill="#9c1634"/>
<circle cx="153.10" cy="466.00" r="1.45" fill="#9c1634"/>
<circle cx="160.20" cy="463.80" r="1.45" fill="#9c1634"/>
<circle cx="164.60" cy="461.20" r="1.45" fill="#9c1634"/>
<circle cx="159.40" cy="436.90" r="1.45" fill="#9c1634"/>
<circle cx="184.60" cy="440.60" r="1.45" fill="#9c1634"/>
<circle cx="193.70" cy="461.30" r="1.45" fill="#9c1634"/>
<circle cx="218.70" cy="439.60" r="1.45" fill="#9c1634"/>
<circle cx="170.20" cy="456.20" r="1.45" fill="#9c1634"/>
<circle cx="59.30" cy="474.00" r="1.45" fill="#223f70"/>
<circle cx="82.90" cy="478.70" r="1.45" fill="#223f70"/>
<circle cx="95.80" cy="470.60" r="1.45" fill="#223f70"/>
<circle cx="104.00" cy="472.10" r="1.45" fill="#223f70"/>
<circle cx="103.30" cy="449.00" r="1.45" fill="#223f70"/>
<circle cx="114.90" cy="434.30" r="1.45" fill="#223f70"/>
<circle cx="131.80" cy="423.00" r="1.45" fill="#223f70"/>
<circle cx="114.50" cy="457.40" r="1.45" fill="#223f70"/>
<circle cx="120.60" cy="454.20" r="1.45" fill="#223f70"/>
<circle cx="126.10" cy="461.40" r="1.45" fill="#223f70"/>
<circle cx="133.70" cy="451.90" r="1.45" fill="#223f70"/>
<circle cx="135.60" cy="444.60" r="1.45" fill="#223f70"/>
<circle cx="141.90" cy="455.40" r="1.45" fill="#223f70"/>
<circle cx="150.80" cy="454.20" r="1.45" fill="#223f70"/>
<circle cx="155.00" cy="433.30" r="1.45" fill="#223f70"/>
<circle cx="157.30" cy="430.40" r="1.45" fill="#223f70"/>
<circle cx="156.50" cy="438.10" r="1.45" fill="#223f70"/>
<line x1="50.80" y1="349.60" x2="50.80" y2="486.60" stroke="#363636" stroke-width="1.45"/>
<line x1="50.30" y1="486.00" x2="226.00" y2="486.00" stroke="#363636" stroke-width="1.45"/>
<text x="138.40" y="512.60" font-size="9.5" text-anchor="middle" fill="#262626" textLength="109.80" lengthAdjust="spacingAndGlyphs">Day 0 MCP-1 conc. (pg/mL)</text>
<circle cx="233.40" cy="407.70" r="1.45" fill="#9c1634"/>
<circle cx="233.40" cy="421.70" r="1.45" fill="#223f70"/>
<text x="238.50" y="410.10" font-size="7.0" text-anchor="start" fill="#262626" textLength="100.60" lengthAdjust="spacingAndGlyphs">High-intensity lymphodepletion</text>
<text x="238.50" y="423.80" font-size="7.0" text-anchor="start" fill="#262626" textLength="98.40" lengthAdjust="spacingAndGlyphs">Low-intensity lymphodepletion</text>
<rect x="0" y="0" width="520" height="1.3" fill="#0a0a0a"/>
<rect x="518.7" y="0" width="1.3" height="522" fill="#0a0a0a"/>
<rect x="0" y="0" width="1.45" height="522" fill="#484848"/>
<rect x="0" y="520" width="520" height="2" fill="#4a4a4a"/>
</svg>
</body></html>
